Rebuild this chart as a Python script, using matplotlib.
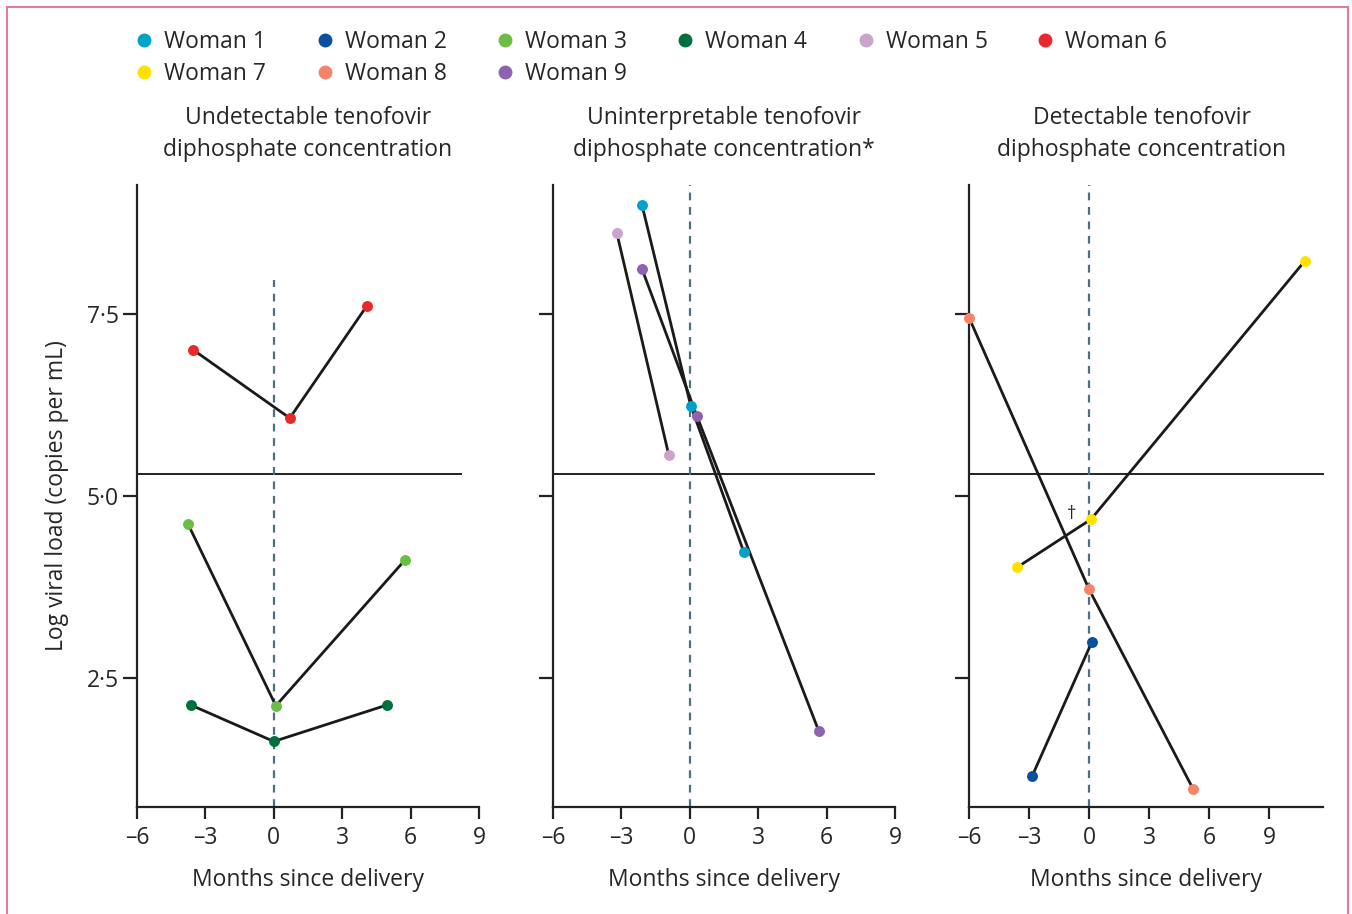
import matplotlib
matplotlib.use("Agg")
import matplotlib.pyplot as plt
from matplotlib.lines import Line2D
from matplotlib.patches import Rectangle

plt.rcParams['font.family'] = ['Open Sans', 'DejaVu Sans']

# ---- data ----
names = ["Woman 1", "Woman 2", "Woman 3", "Woman 4", "Woman 5",
         "Woman 6", "Woman 7", "Woman 8", "Woman 9"]
colors = ["#00A3C8", "#0A4FA0", "#6CBD45", "#00703C", "#CBA3CB",
          "#E8282B", "#FFE100", "#F4846A", "#8E62B0"]

panel_titles = ["Undetectable tenofovir\ndiphosphate concentration",
                "Uninterpretable tenofovir\ndiphosphate concentration*",
                "Detectable tenofovir\ndiphosphate concentration"]

# panel 1
w6_x = [-3.55, 0.7, 4.08]
w6_y = [7.01, 6.07, 7.61]
w3_x = [-3.77, 0.09, 5.75]
w3_y = [4.62, 2.12, 4.12]
w4_x = [-3.64, 0.0, 4.96]
w4_y = [2.13, 1.63, 2.13]
# panel 2
w1_x = [-2.1, 0.04, 2.37]
w1_y = [9.0, 6.24, 4.23]
w5_x = [-3.2, -0.92]
w5_y = [8.61, 5.56]
w9_x = [-2.1, 0.31, 5.66]
w9_y = [8.12, 6.10, 1.77]
# panel 3
w8_x = [-6.0, 0.0, 5.2]
w8_y = [7.45, 3.72, 0.98]
w7_x = [-3.6, 0.1, 10.8]
w7_y = [4.02, 4.68, 8.23]
w2_x = [-2.85, 0.15]
w2_y = [1.15, 3.0]

panels = [
    [(5, w6_x, w6_y), (2, w3_x, w3_y), (3, w4_x, w4_y)],
    [(0, w1_x, w1_y), (4, w5_x, w5_y), (8, w9_x, w9_y)],
    [(7, w8_x, w8_y), (6, w7_x, w7_y), (1, w2_x, w2_y)],
]

xticks = [-6, -3, 0, 3, 6, 9]
xtick_labels = ["\u20136", "\u20133", "0", "3", "6", "9"]
yticks = [2.5, 5.0, 7.5]
ytick_labels = ["2\u00b75", "5\u00b70", "7\u00b75"]
threshold = 5.3

W, H = 1352, 914
fig = plt.figure(figsize=(W / 100, H / 100), dpi=100)

# panel geometry in pixels (left, right)
pix = [(137, 479), (553, 895), (969, 1323)]
xlims = [(-6, 9), (-6, 9), (-6, 11.7)]
hline_end = [8.2, 8.1, 11.7]
vline_top = [7.97, 9.27, 9.27]
top_px, bot_px = 185, 807
ylim = (0.73, 9.27)

text_color = "#262626"
fs = 16.5

for i, (l, r) in enumerate(pix):
    ax = fig.add_axes([l / W, 1 - bot_px / H, (r - l) / W, (bot_px - top_px) / H])
    ax.set_xlim(*xlims[i])
    ax.set_ylim(*ylim)
    for s in ["top", "right"]:
        ax.spines[s].set_visible(False)
    for s in ["left", "bottom"]:
        ax.spines[s].set_linewidth(1.6)
        ax.spines[s].set_color("#222222")
    ax.set_xticks(xticks)
    ax.set_xticklabels(xtick_labels)
    ax.set_yticks(yticks)
    ax.set_yticklabels(ytick_labels if i == 0 else [])
    ax.tick_params(axis="x", direction="out", length=8.5, width=1.6,
                   color="#222222", labelsize=fs, labelcolor=text_color, pad=5)
    ax.tick_params(axis="y", direction="out", length=10, width=1.6,
                   color="#222222", labelsize=fs, labelcolor=text_color, pad=3)
    ax.set_facecolor("none")

    # threshold line
    ax.plot([xlims[i][0], hline_end[i]], [threshold, threshold],
            color="#222222", lw=1.4, zorder=1, clip_on=False)
    # delivery line
    ax.plot([0, 0], [ylim[0], vline_top[i]], color="#4F6E7E", lw=1.6,
            ls=(0, (3.5, 3)), zorder=1, clip_on=False)

    for ci, xs, ys in panels[i]:
        ax.plot(xs, ys, color="#1a1a1a", lw=2, zorder=2, clip_on=False)
        ax.scatter(xs, ys, s=62, color=colors[ci], zorder=3, clip_on=False,
                   linewidths=0)

    ax.set_xlabel("Months since delivery", fontsize=fs, color=text_color,
                  labelpad=13)
    cx = (l + r) / 2 / W
    if i == 2:
        cx = 1142 / W
    fig.text(cx, 1 - 134 / H, panel_titles[i], ha="center", va="center",
             fontsize=fs, color=text_color, linespacing=1.5)
    if i == 2:
        ax.text(-0.85, 4.75, "\u2020", ha="center", va="center",
                fontsize=fs - 3, color=text_color)
    if i == 0:
        ax.set_ylabel("Log viral load (copies per mL)", fontsize=fs,
                      color=text_color, labelpad=13)

# legend (row-major)
leg_x = [144, 325, 505, 685, 866, 1045]
leg_y = [40, 72]
for k, (nm, c) in enumerate(zip(names, colors)):
    row, col = divmod(k, 6)
    x = leg_x[col] / W
    y = 1 - leg_y[row] / H
    fig.add_artist(Line2D([x], [y], marker="o", markersize=10, color=c,
                          markeredgewidth=0, linestyle="none",
                          transform=fig.transFigure))
    fig.text(x + 20 / W, y - 2 / H, nm, ha="left", va="center", fontsize=fs,
             color=text_color)

# pink frame
fig.add_artist(Rectangle((7 / W, -0.02), (1348 - 7) / W, 1.02 - 7 / H,
                         transform=fig.transFigure, fill=False,
                         edgecolor="#E07D9C", lw=1.5))

fig.savefig("out.png", dpi=100)
